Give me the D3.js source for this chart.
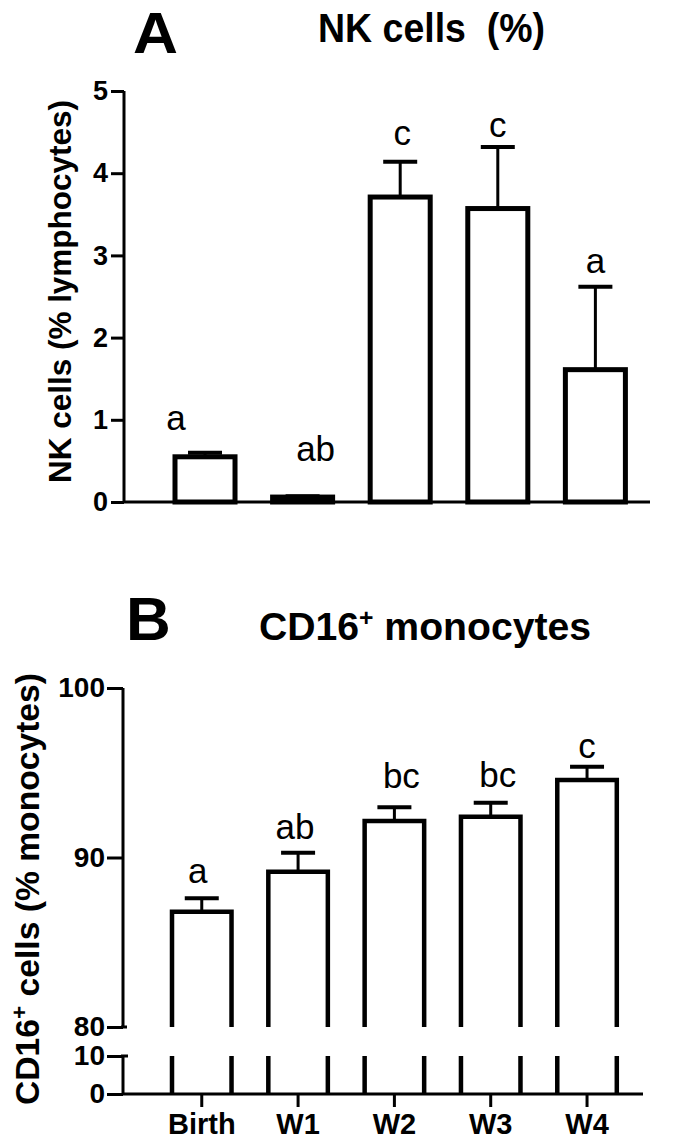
<!DOCTYPE html>
<html>
<head>
<meta charset="utf-8">
<script src="https://cdn.jsdelivr.net/npm/d3@7"></script>
<style>
  html, body { margin: 0; padding: 0; background: #fff; }
  svg text { font-family: "Liberation Sans", Arial, sans-serif; fill: #000; }
</style>
</head>
<body>
<svg id="chart" width="675" height="1140"></svg>
<script>
// ---------------- DATA ----------------
const categories = ["Birth", "W1", "W2", "W3", "W4"];

const nkMean   = [0.55, 0.06, 3.71, 3.57, 1.61];
const nkSem    = [0.05, 0.01, 0.43, 0.75, 1.01];
const nkLetters = ["a", "ab", "c", "c", "a"];
const nkTicks  = [0, 1, 2, 3, 4, 5];

const cd16Mean = [86.80, 89.16, 92.15, 92.41, 94.57];
const cd16Sem  = [0.79, 1.12, 0.81, 0.82, 0.79];
const cd16Letters = ["a", "ab", "bc", "bc", "c"];
const cd16UpperTicks = [80, 90, 100];
const cd16LowerTicks = [0, 10];

// ---------------- DRAW ----------------
const svg = d3.select("#chart");
const FONT = '"Liberation Sans", Arial, sans-serif';

function fitText(sel, w) {
  sel.attr("textLength", w).attr("lengthAdjust", "spacingAndGlyphs");
}

// ===== Panel A =====
{
  const g = svg.append("g");
  const x = d3.scaleBand().domain(categories).range([175, 625.4]).paddingInner(0.385).paddingOuter(0);
  const y = d3.scaleLinear().domain([0, 5]).range([502, 91]);

  // y axis
  const ax = g.append("g").attr("transform", "translate(124,0)")
    .call(d3.axisLeft(y).tickValues(nkTicks).tickSize(13).tickPadding(3).tickFormat(d3.format("d")));
  ax.select(".domain").attr("stroke", "#000").attr("stroke-width", 3).attr("d", `M0,${y(5)}V${y(0)}`);
  ax.selectAll(".tick line").attr("stroke", "#000").attr("stroke-width", 3);
  ax.selectAll(".tick text").attr("font-family", FONT).attr("font-size", 27).attr("font-weight", "bold").attr("fill", "#000");

  // x baseline
  g.append("line").attr("x1", 124).attr("x2", 650).attr("y1", y(0)).attr("y2", y(0))
    .attr("stroke", "#000").attr("stroke-width", 3);

  // error bars
  const eb = g.selectAll(".eb").data(categories).enter().append("g");
  eb.append("line")
    .attr("x1", d => x(d) + x.bandwidth() / 2).attr("x2", d => x(d) + x.bandwidth() / 2)
    .attr("y1", (d, i) => y(nkMean[i])).attr("y2", (d, i) => y(nkMean[i] + nkSem[i]))
    .attr("stroke", "#000").attr("stroke-width", 3);
  eb.append("line")
    .attr("x1", d => x(d) + x.bandwidth() / 2 - 17).attr("x2", d => x(d) + x.bandwidth() / 2 + 17)
    .attr("y1", (d, i) => y(nkMean[i] + nkSem[i])).attr("y2", (d, i) => y(nkMean[i] + nkSem[i]))
    .attr("stroke", "#000").attr("stroke-width", 4);

  // bars
  g.selectAll(".bar").data(categories).enter().append("rect")
    .attr("x", d => x(d)).attr("width", x.bandwidth())
    .attr("y", (d, i) => y(nkMean[i])).attr("height", (d, i) => y(0) - y(nkMean[i]))
    .attr("fill", "#fff").attr("stroke", "#000").attr("stroke-width", 5);

  // letters
  const nudge = [[-29, -9], [13, -21], [2, -3], [0, 4], [0, 0]];
  g.selectAll(".let").data(categories).enter().append("text")
    .attr("x", (d, i) => x(d) + x.bandwidth() / 2 + nudge[i][0])
    .attr("y", (d, i) => y(nkMean[i] + nkSem[i]) - 14 + nudge[i][1])
    .attr("text-anchor", "middle").attr("font-size", 35)
    .text((d, i) => nkLetters[i]);

  // titles
  g.append("text").attr("x", 133).attr("y", 53).attr("font-size", 58).attr("font-weight", "bold")
    .text("A").call(fitText, 45);
  g.append("text").attr("x", 318).attr("y", 42).attr("font-size", 40).attr("font-weight", "bold")
    .style("white-space", "pre").attr("xml:space", "preserve")
    .text("NK cells  (%)").call(fitText, 227);

  // y label
  g.append("text").attr("transform", "translate(71,291.5) rotate(-90)")
    .attr("text-anchor", "middle").attr("font-size", 31).attr("font-weight", "bold")
    .text("NK cells (% lymphocytes)").call(fitText, 383);
}

// ===== Panel B =====
{
  const g = svg.append("g");
  const x = d3.scaleBand().domain(categories).range([172, 616.8]).paddingInner(0.382).paddingOuter(0);
  const yU = d3.scaleLinear().domain([80, 100]).range([1027, 688]);
  const yL = d3.scaleLinear().domain([0, 10]).range([1094, 1056]);

  // upper y axis
  const axU = g.append("g").attr("transform", "translate(123,0)")
    .call(d3.axisLeft(yU).tickValues(cd16UpperTicks).tickSize(16).tickPadding(2).tickFormat(d3.format("d")));
  axU.select(".domain").attr("stroke", "#000").attr("stroke-width", 3).attr("d", `M0,${yU(100)}V${yU(80)}`);
  axU.selectAll(".tick line").attr("stroke", "#000").attr("stroke-width", 3);
  axU.selectAll(".tick text").attr("font-family", FONT).attr("font-size", 28).attr("font-weight", "bold").attr("fill", "#000");

  // lower y axis
  const axL = g.append("g").attr("transform", "translate(123,0)")
    .call(d3.axisLeft(yL).tickValues(cd16LowerTicks).tickSize(16).tickPadding(2).tickFormat(d3.format("d")));
  axL.select(".domain").attr("stroke", "#000").attr("stroke-width", 3).attr("d", `M0,${yL(10)}V${yL(0)}`);
  axL.selectAll(".tick line").attr("stroke", "#000").attr("stroke-width", 3);
  axL.selectAll(".tick text").attr("font-family", FONT).attr("font-size", 28).attr("font-weight", "bold").attr("fill", "#000");
  // small right-side caps at the break ends
  g.append("line").attr("x1", 121).attr("x2", 128).attr("y1", yL(10)).attr("y2", yL(10)).attr("stroke", "#000").attr("stroke-width", 3);
  g.append("line").attr("x1", 121).attr("x2", 127).attr("y1", yU(80)).attr("y2", yU(80)).attr("stroke", "#000").attr("stroke-width", 3);

  // x axis
  const axX = g.append("g").attr("transform", `translate(0,${yL(0)})`)
    .call(d3.axisBottom(x).tickSize(13).tickPadding(6));
  axX.select(".domain").attr("stroke", "#000").attr("stroke-width", 3).attr("d", `M123,0H643`);
  axX.selectAll(".tick line").attr("stroke", "#000").attr("stroke-width", 3);
  axX.selectAll(".tick text").attr("font-family", FONT).attr("font-size", 29).attr("font-weight", "bold").attr("fill", "#000")
    .attr("dy", "0.71em");

  // error bars
  const eb = g.selectAll(".eb").data(categories).enter().append("g");
  eb.append("line")
    .attr("x1", d => x(d) + x.bandwidth() / 2).attr("x2", d => x(d) + x.bandwidth() / 2)
    .attr("y1", (d, i) => yU(cd16Mean[i])).attr("y2", (d, i) => yU(cd16Mean[i] + cd16Sem[i]))
    .attr("stroke", "#000").attr("stroke-width", 3);
  eb.append("line")
    .attr("x1", d => x(d) + x.bandwidth() / 2 - 17).attr("x2", d => x(d) + x.bandwidth() / 2 + 17)
    .attr("y1", (d, i) => yU(cd16Mean[i] + cd16Sem[i])).attr("y2", (d, i) => yU(cd16Mean[i] + cd16Sem[i]))
    .attr("stroke", "#000").attr("stroke-width", 4);

  // bars (broken)
  const bars = g.selectAll(".bar").data(categories).enter().append("g");
  bars.append("rect")
    .attr("x", d => x(d)).attr("width", x.bandwidth())
    .attr("y", (d, i) => yU(cd16Mean[i])).attr("height", (d, i) => yU(80) - yU(cd16Mean[i]))
    .attr("fill", "#fff");
  bars.append("path")
    .attr("d", (d, i) => {
      const l = x(d), r = x(d) + x.bandwidth();
      return `M${l},${yU(80)}V${yU(cd16Mean[i])}H${r}V${yU(80)}` +
             `M${l},${yL(10)}V${yL(0)}M${r},${yL(10)}V${yL(0)}`;
    })
    .attr("fill", "none").attr("stroke", "#000").attr("stroke-width", 4.5).attr("stroke-linejoin", "miter");

  // letters
  const nudge = [[-4, -1], [-3, 0], [7, -5], [7, -2], [0, 5]];
  g.selectAll(".let").data(categories).enter().append("text")
    .attr("x", (d, i) => x(d) + x.bandwidth() / 2 + nudge[i][0])
    .attr("y", (d, i) => yU(cd16Mean[i] + cd16Sem[i]) - 14 + nudge[i][1])
    .attr("text-anchor", "middle").attr("font-size", 35)
    .text((d, i) => cd16Letters[i]);

  // titles
  g.append("text").attr("x", 126).attr("y", 640).attr("font-size", 62).attr("font-weight", "bold").text("B");
  const t = g.append("text").attr("x", 259).attr("y", 640).attr("font-size", 38).attr("font-weight", "bold");
  t.append("tspan").text("CD16");
  t.append("tspan").attr("dy", -14).attr("font-size", 24).text("+");
  t.append("tspan").attr("dy", 14).text(" monocytes");
  fitText(t, 332);

  // y label
  const yl = g.append("text").attr("transform", "translate(39,889) rotate(-90)")
    .attr("text-anchor", "middle").attr("font-size", 33).attr("font-weight", "bold");
  yl.append("tspan").text("CD16");
  yl.append("tspan").attr("dy", -12).attr("font-size", 22).text("+");
  yl.append("tspan").attr("dy", 12).text(" cells (% monocytes)");
  fitText(yl, 432);
}
</script>
</body>
</html>
